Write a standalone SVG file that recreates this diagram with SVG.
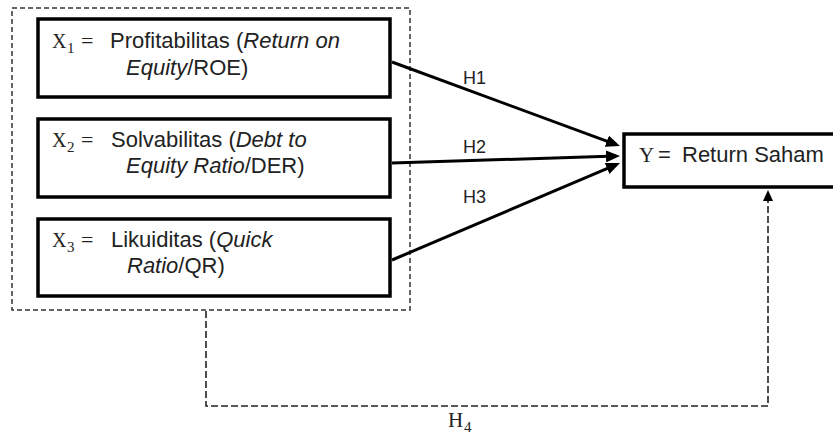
<svg xmlns="http://www.w3.org/2000/svg" width="833" height="434" viewBox="0 0 833 434">
<style>
.box{fill:#fff;stroke:#000;stroke-width:3.5}
.grp{fill:none;stroke:#333;stroke-width:1.5;stroke-dasharray:5 3}
.t{font-family:"Liberation Sans",Arial,sans-serif;font-size:22px;fill:#222}
.i{font-style:italic}
.m{font-family:"Liberation Serif","DejaVu Serif",serif;font-size:20px;fill:#222}
.sub{font-family:"Liberation Serif","DejaVu Serif",serif;font-size:15px;fill:#222}
.h{font-family:"Liberation Sans",Arial,sans-serif;font-size:18px;fill:#222}
.arr{fill:none;stroke:#000;stroke-width:3}
.darr{fill:none;stroke:#222;stroke-width:1.6;stroke-dasharray:7 3}
</style>
<defs>
<marker id="ah" viewBox="0 0 14 12" refX="10" refY="6" markerWidth="14" markerHeight="12" markerUnits="userSpaceOnUse" orient="auto"><path d="M0,0 L14,6 L0,12 z" fill="#000"/></marker>
<marker id="ahs" viewBox="0 0 11 10" refX="7" refY="5" markerWidth="11" markerHeight="10" markerUnits="userSpaceOnUse" orient="auto"><path d="M0,0 L11,5 L0,10 z" fill="#000"/></marker>
</defs>
<rect id="group" class="grp" x="12" y="8" width="398" height="302"/>
<g id="x1">
<rect class="box" x="38" y="19" width="352" height="78"/>
<text class="m" x="52" y="48">X</text><text class="sub" x="67" y="53">1</text><text class="m" x="81" y="48" style="font-size:22px">=</text>
<text class="t" x="110" y="48">Profitabilitas (<tspan class="i">Return on</tspan></text>
<text class="t" x="126" y="75"><tspan class="i">Equity</tspan>/ROE)</text>
</g>
<g id="x2">
<rect class="box" x="38" y="119" width="352" height="78"/>
<text class="m" x="52" y="147">X</text><text class="sub" x="67" y="152">2</text><text class="m" x="81" y="147" style="font-size:22px">=</text>
<text class="t" x="111" y="147">Solvabilitas (<tspan class="i">Debt to</tspan></text>
<text class="t" x="126" y="173"><tspan class="i">Equity Ratio</tspan>/DER)</text>
</g>
<g id="x3">
<rect class="box" x="38" y="219" width="352" height="77"/>
<text class="m" x="52" y="247">X</text><text class="sub" x="67" y="252">3</text><text class="m" x="81" y="247" style="font-size:22px">=</text>
<text class="t" x="111" y="247">Likuiditas (<tspan class="i">Quick</tspan></text>
<text class="t" x="127" y="273"><tspan class="i">Ratio</tspan>/QR)</text>
</g>
<g id="y">
<rect class="box" x="624" y="134" width="230" height="53"/>
<text class="m" x="639" y="162" style="font-size:21px">Y</text><text class="t" x="658" y="162">=</text>
<text class="t" x="682" y="162">Return Saham</text>
</g>
<g id="connectors">
<line class="arr" x1="392" y1="62" x2="616.2" y2="144.6" marker-end="url(#ah)"/>
<line class="arr" x1="392" y1="163" x2="616" y2="156.1" marker-end="url(#ah)"/>
<line class="arr" x1="392" y1="260" x2="616.3" y2="164.6" marker-end="url(#ah)"/>
<path class="darr" d="M206,311 V406 H768 V194" marker-end="url(#ahs)"/>
<text class="h" x="463" y="84">H1</text>
<text class="h" x="463" y="153">H2</text>
<text class="h" x="463" y="203">H3</text>
<text class="m" x="448" y="427" style="font-size:21px">H</text><text class="sub" x="464" y="432">4</text>
</g>
</svg>
